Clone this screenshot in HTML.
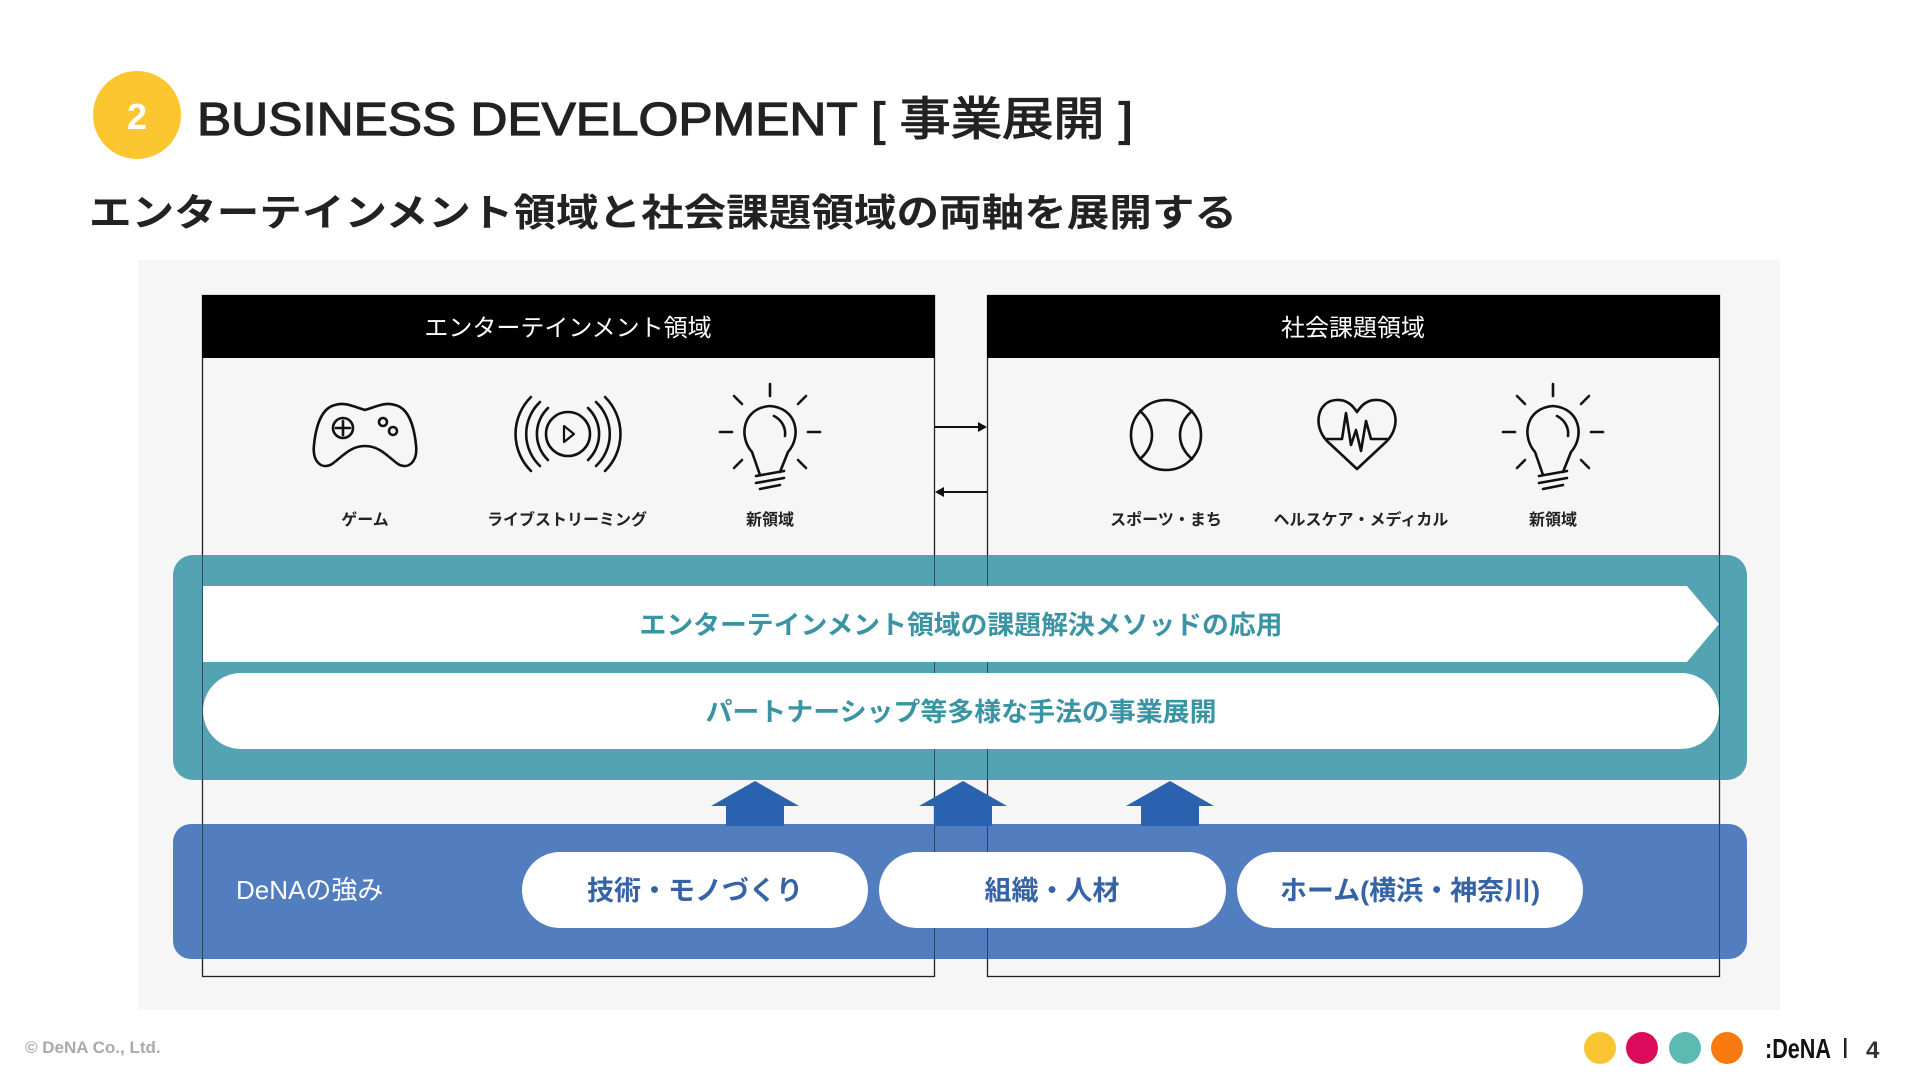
<!DOCTYPE html>
<html><head><meta charset="utf-8"><style>
html,body{margin:0;padding:0;background:#fff;}
svg{display:block;}
text{font-family:"Liberation Sans","Noto Sans CJK JP",sans-serif;}
</style></head><body>
<svg width="1920" height="1080" viewBox="0 0 1920 1080" xmlns="http://www.w3.org/2000/svg">
<rect width="1920" height="1080" fill="#fff"/>
<circle cx="137" cy="115" r="44" fill="#fbc62f"/>
<text x="137" y="129" font-size="36" font-weight="bold" fill="#fff" text-anchor="middle">2</text>
<text x="197" y="135" font-size="46" fill="#222" stroke="#222" stroke-width="1.2" textLength="936" lengthAdjust="spacingAndGlyphs">BUSINESS DEVELOPMENT [ 事業展開 ]</text>
<text x="89" y="226" font-size="38" font-weight="bold" fill="#222" textLength="1148" lengthAdjust="spacingAndGlyphs">エンターテインメント領域と社会課題領域の両軸を展開する</text>

<rect x="138" y="260" width="1642" height="750" fill="#f6f6f6"/>

<!-- boxes -->
<rect x="202.5" y="295.5" width="732" height="681" fill="none" stroke="#222" stroke-width="1.3"/>
<rect x="987.5" y="295.5" width="732" height="681" fill="none" stroke="#222" stroke-width="1.3"/>
<rect x="202" y="295" width="733" height="63" fill="#000"/>
<rect x="987" y="295" width="733" height="63" fill="#000"/>
<text x="568" y="336" font-size="24" fill="#fff" text-anchor="middle">エンターテインメント領域</text>
<text x="1353" y="336" font-size="24" fill="#fff" text-anchor="middle">社会課題領域</text>

<!-- connector arrows -->
<line x1="935" y1="427" x2="980" y2="427" stroke="#111" stroke-width="2"/>
<polygon points="987,427 978,422 978,432" fill="#111"/>
<line x1="942" y1="492" x2="987" y2="492" stroke="#111" stroke-width="2"/>
<polygon points="935,492 944,487 944,497" fill="#111"/>

<g fill="none" stroke="#111" stroke-width="2.6" stroke-linecap="round" stroke-linejoin="round">
<path d="M335,405 C345,402 352,406 365,410 C378,406 385,402 395,405 C408,408 414,425 416,445 C418,462 408,470 398,464 C388,457 380,446 365,446 C350,446 342,457 332,464 C322,470 312,462 314,445 C316,425 322,408 335,405 Z"/>
<circle cx="343" cy="428" r="10"/>
<line x1="343" y1="421" x2="343" y2="435"/><line x1="336" y1="428" x2="350" y2="428"/>
<circle cx="383" cy="422" r="4"/><circle cx="393" cy="431" r="4"/>
<circle cx="568" cy="434" r="22"/>
<polygon points="564,426 574,434 564,442" stroke-width="2.2"/>
<path d="M548,408 A36,36 0 0 0 548,460"/><path d="M540,402 A44,44 0 0 0 540,466"/><path d="M531,397 A52,52 0 0 0 531,471"/>
<path d="M588,408 A36,36 0 0 1 588,460"/><path d="M596,402 A44,44 0 0 1 596,466"/><path d="M605,397 A52,52 0 0 1 605,471"/>
</g>

<defs>
<g id="bulb" fill="none" stroke="#111" stroke-width="2.6" stroke-linecap="round">
<path d="M-10,43 L-18,20 C-32,4 -27,-24 0,-26 C27,-24 32,4 18,20 L10,40"/>
<path d="M4,-16 C12,-12 16,-4 15,4"/>
<line x1="-14" y1="44" x2="14" y2="39"/><line x1="-14" y1="51" x2="14" y2="46"/><line x1="-10" y1="57" x2="10" y2="53"/>
<line x1="0" y1="-48" x2="0" y2="-36"/>
<line x1="-36" y1="-36" x2="-28" y2="-28"/><line x1="36" y1="-36" x2="28" y2="-28"/>
<line x1="-50" y1="0" x2="-38" y2="0"/><line x1="50" y1="0" x2="38" y2="0"/>
<line x1="-36" y1="36" x2="-28" y2="28"/><line x1="36" y1="36" x2="28" y2="28"/>
</g>
</defs>
<use href="#bulb" x="770" y="432"/>
<use href="#bulb" x="1553" y="432"/>

<g fill="none" stroke="#111" stroke-width="2.6" stroke-linecap="round" stroke-linejoin="round">
<circle cx="1166" cy="435" r="35"/>
<path d="M1140,411 C1156,425 1156,445 1140,459"/>
<path d="M1192,411 C1176,425 1176,445 1192,459"/>
<path d="M1357,469 L1327,441 C1312,425 1318,401 1336,400 C1347,399 1353,406 1357,412 C1361,406 1367,399 1378,400 C1396,401 1402,425 1387,441 Z"/>
<path d="M1326,439 L1342,439 L1346,413 L1351,445 L1356,430 L1361,451 L1366,421 L1371,439 L1388,439"/>
</g>

<g font-size="16" font-weight="bold" fill="#222" text-anchor="middle">
<text x="365" y="525">ゲーム</text>
<text x="567" y="525">ライブストリーミング</text>
<text x="770" y="525">新領域</text>
<text x="1166" y="525">スポーツ・まち</text>
<text x="1361" y="525">ヘルスケア・メディカル</text>
<text x="1553" y="525">新領域</text>
</g>

<!-- teal band -->
<rect x="173" y="555" width="1574" height="225" rx="20" fill="#53a3b3"/>
<g stroke="#1a3a50" stroke-width="1" opacity="0.8">
<line x1="202.5" y1="555" x2="202.5" y2="780"/>
<line x1="934.5" y1="555" x2="934.5" y2="780"/>
<line x1="987.5" y1="555" x2="987.5" y2="780"/>
<line x1="1719.5" y1="555" x2="1719.5" y2="780"/>
</g>
<polygon points="203,586 1687,586 1719,624 1687,662 203,662" fill="#fff"/>
<rect x="203" y="673" width="1516" height="76" rx="38" fill="#fff"/>
<text x="961" y="634" font-size="26" font-weight="bold" fill="#3a94a3" text-anchor="middle" textLength="643" lengthAdjust="spacingAndGlyphs">エンターテインメント領域の課題解決メソッドの応用</text>
<text x="961" y="721" font-size="26" font-weight="bold" fill="#3a94a3" text-anchor="middle" textLength="511" lengthAdjust="spacingAndGlyphs">パートナーシップ等多様な手法の事業展開</text>

<!-- blue band -->
<rect x="173" y="824" width="1574" height="135" rx="18" fill="#527ebf"/>
<g stroke="#1a3a50" stroke-width="1" opacity="0.8">
<line x1="202.5" y1="780" x2="202.5" y2="959"/>
<line x1="934.5" y1="780" x2="934.5" y2="959"/>
<line x1="987.5" y1="780" x2="987.5" y2="959"/>
<line x1="1719.5" y1="780" x2="1719.5" y2="959"/>
</g>
<g fill="#2a62b0">
<polygon points="711,806 755,781 799,806 784,806 784,826 726,826 726,806"/>
<polygon points="919,806 963,781 1007,806 992,806 992,826 934,826 934,806"/>
<polygon points="1126,806 1170,781 1214,806 1199,806 1199,826 1141,826 1141,806"/>
</g>
<text x="236" y="899" font-size="26" fill="#fff">DeNAの強み</text>
<rect x="522" y="852" width="346" height="76" rx="38" fill="#fff"/>
<rect x="879" y="852" width="347" height="76" rx="38" fill="#fff"/>
<rect x="1237" y="852" width="346" height="76" rx="38" fill="#fff"/>
<g font-size="27" font-weight="bold" fill="#3563a6" text-anchor="middle">
<text x="695" y="900">技術・モノづくり</text>
<text x="1052" y="900">組織・人材</text>
<text x="1410" y="900">ホーム(横浜・神奈川)</text>
</g>

<!-- footer -->
<text x="25" y="1053" font-size="17" font-weight="bold" fill="#aaa">© DeNA Co., Ltd.</text>
<circle cx="1600" cy="1048" r="16" fill="#fbc531"/>
<circle cx="1642" cy="1048" r="16" fill="#dc0a5a"/>
<circle cx="1685" cy="1048" r="16" fill="#5cbab3"/>
<circle cx="1727" cy="1048" r="16" fill="#f97a10"/>
<text x="1765" y="1058" font-size="28" font-weight="bold" fill="#111" textLength="66" lengthAdjust="spacingAndGlyphs">:DeNA</text>
<rect x="1844" y="1038" width="2.5" height="20" fill="#222"/>
<text x="1866" y="1058" font-size="24" font-weight="bold" fill="#333">4</text>
</svg>
</body></html>
